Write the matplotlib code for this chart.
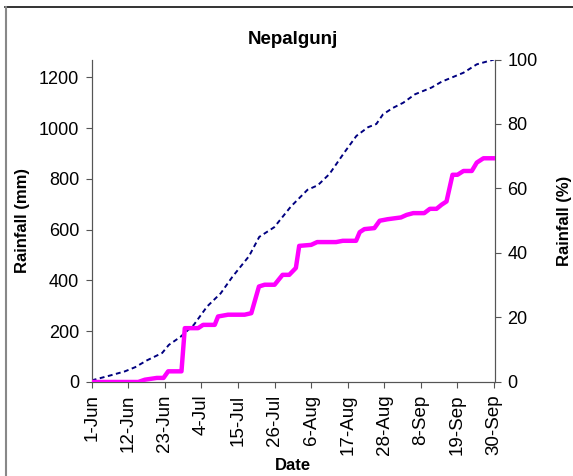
import matplotlib
matplotlib.use("Agg")
import matplotlib.pyplot as plt
import matplotlib.dates as mdates
from matplotlib.lines import Line2D
import numpy as np
import datetime as dt

plt.rcParams['font.family'] = ['Liberation Sans', 'DejaVu Sans']

# cumulative rainfall (mm), breakpoints: day after 1-Jun, value
rain_days = [0, 14, 16, 19.6, 21.6, 23, 27, 28, 32, 33.5, 37, 38, 41, 46, 48, 50.3, 52, 55,
             57.4, 59.4, 61.4, 62.4, 66, 67.8, 73.5, 75.5, 79.5, 80.6, 82, 85, 86.6, 89, 93,
             94.7, 96.7, 100, 101.7, 103.7, 105.2, 106.7, 108.5, 110, 111.8, 114.3, 115.8,
             117.8, 121]
rain_mm = [0, 0, 9, 16, 16, 42, 42, 212, 212, 225, 225, 258, 265, 265, 271, 376, 383, 383,
           422, 422, 449, 536, 540, 551, 551, 556, 556, 590, 602, 606, 635, 641, 648,
           658, 665, 665, 682, 682, 698, 711, 816, 816, 831, 831, 864, 881, 881]

# cumulative rainfall (%), breakpoints
pct_days = [0, 5.5, 10, 13.1, 16.6, 21.2, 23.2, 26.7, 30.7, 34.7, 38.8, 42.3, 47.3, 50.4,
            54.9, 59.9, 64.9, 68, 71.5, 76, 79.6, 83.1, 85.6, 87.6, 90.6, 93.7, 97.2,
            102.2, 105.2, 111.8, 115.8, 121]
pct_vals = [0.5, 2, 3.3, 4.6, 6.7, 9, 11.5, 14, 17.7, 23.4, 27.5, 32.6, 39, 45,
            48, 54.4, 59.6, 61, 64.5, 71.2, 76.3, 79, 80, 83, 85, 86.6, 89.2,
            91.3, 93.1, 95.9, 98.5, 100]

start = dt.datetime(2000, 6, 1)
rain_x = [start + dt.timedelta(days=d) for d in rain_days]
pct_x = [start + dt.timedelta(days=d) for d in pct_days]
tick_x = [start + dt.timedelta(days=11 * i) for i in range(12)]

fig = plt.figure(figsize=(5.73, 4.76), dpi=100)
ax = fig.add_axes([0.16, 0.1975, 0.704, 0.6775])
ax2 = ax.twinx()

ax.plot(rain_x, rain_mm, color='#FF00FF', lw=3.2, solid_joinstyle='round', zorder=3)
ax2.plot(pct_x, pct_vals, color='#000080', lw=1.4, ls=(0, (2.5, 1.8)))
ax.set_zorder(ax2.get_zorder() + 1)
ax.patch.set_visible(False)

ax.set_xlim(start, start + dt.timedelta(days=121.3))
ax.set_ylim(0, 1270)
ax2.set_ylim(0, 100)
ax.set_yticks(range(0, 1201, 200))
ax2.set_yticks(range(0, 101, 20))
ax.set_xticks(tick_x)
ax.xaxis.set_major_formatter(mdates.DateFormatter('%-d-%b'))
plt.setp(ax.get_xticklabels(), rotation=90)

for a in (ax, ax2):
    a.spines['top'].set_visible(False)
    for s in a.spines.values():
        s.set_color('#555555')
    a.tick_params(labelsize=13, length=4, color='#555555', pad=5)
ax.tick_params(axis='x', labelsize=13.5)

ax.set_ylabel('Rainfall (mm)', fontsize=12, fontweight='bold', labelpad=6)
ax2.set_ylabel('Rainfall (%)', fontsize=12, fontweight='bold', labelpad=14)
ax.set_xlabel('Date', fontsize=12, fontweight='bold', labelpad=2)
ax.set_title('Nepalgunj', fontsize=13.5, fontweight='bold', pad=11)

# frame of the chart area: only the top and left edges show
fig.lines.append(Line2D([5 / 573, 1], [1 - 7 / 476] * 2, transform=fig.transFigure,
                        color='#111111', lw=1.2))
fig.lines.append(Line2D([5.5 / 573] * 2, [0, 1 - 7 / 476], transform=fig.transFigure,
                        color='#888888', lw=1.5))

fig.savefig('out.png', dpi=100)
